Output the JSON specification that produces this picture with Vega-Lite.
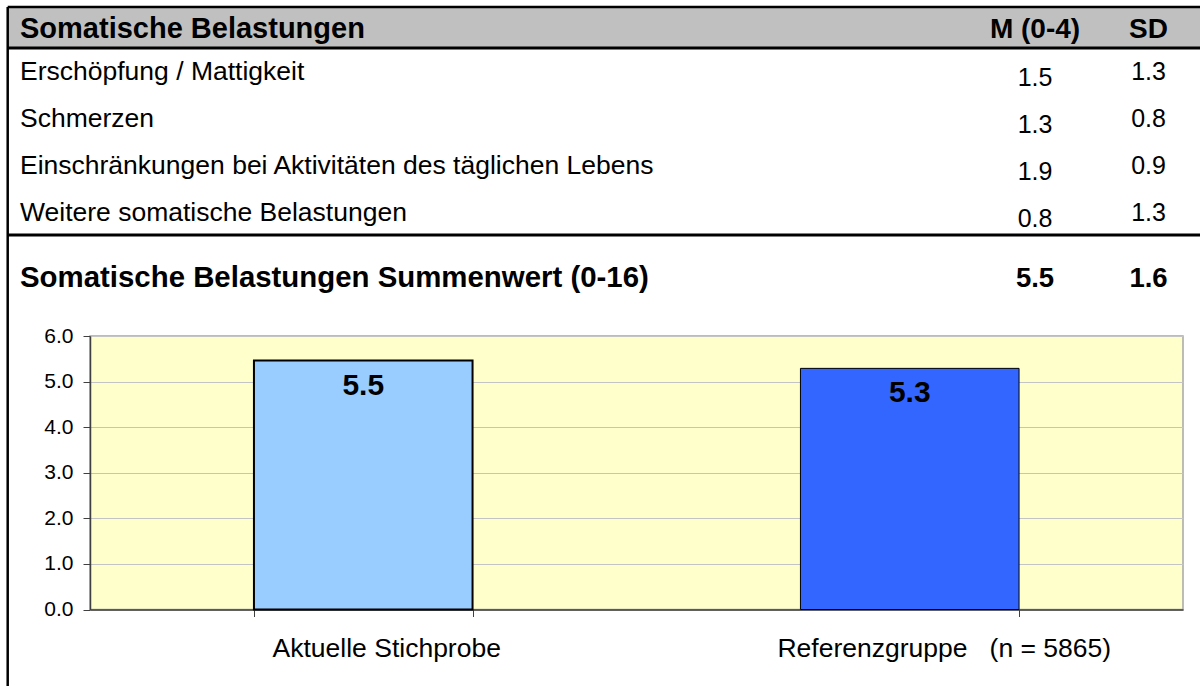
{
  "$schema": "https://vega.github.io/schema/vega-lite/v6.json",
  "width": 1093,
  "height": 273.5,
  "autosize": {"type": "none"},
  "padding": {"left": 90, "top": 336, "right": 17, "bottom": 76.5},
  "background": "white",
  "config": {
    "font": "Liberation Sans",
    "view": {"fill": "#FFFFCC", "stroke": "#A6A6A6", "strokeWidth": 1.5}
  },
  "datasets": {
    "header": [
      {"col": 0, "text": "Somatische Belastungen"},
      {"col": 1, "text": "M (0-4)"},
      {"col": 2, "text": "SD"}
    ],
    "items": [
      {"row": 1, "item": "Erschöpfung / Mattigkeit", "M": 1.5, "SD": 1.3},
      {"row": 2, "item": "Schmerzen", "M": 1.3, "SD": 0.8},
      {"row": 3, "item": "Einschränkungen bei Aktivitäten des täglichen Lebens", "M": 1.9, "SD": 0.9},
      {"row": 4, "item": "Weitere somatische Belastungen", "M": 0.8, "SD": 1.3}
    ],
    "summary": [
      {"row": 5, "item": "Somatische Belastungen Summenwert (0-16)", "M": 5.5, "SD": 1.6}
    ],
    "bars": [
      {"group": "Aktuelle Stichprobe", "value": 5.46},
      {"group": "Referenzgruppe\u00a0\u00a0\u00a0(n = 5865)", "value": 5.29}
    ]
  },
  "layer": [
    {
      "layer": [
        {
          "data": {"values": [{}]},
          "mark": {"type": "rect", "color": "#C0C0C0"},
          "encoding": {
            "x": {"datum": -0.5, "type": "quantitative", "axis": null, "scale": {"domain": [-0.5, 0, 1, 2, 2.5], "range": [-82.3, -70, 945, 1058.5, 1110], "nice": false, "zero": false}},
            "x2": {"datum": 2.5},
            "y": {"datum": -0.5, "type": "quantitative", "axis": null, "scale": {"domain": [-0.5, 0, 0.5, 1, 4, 4.5, 5, 6], "range": [-329, -298.5, -288, -255.7, -115.5, -101, -49.3, 350], "nice": false, "zero": false}},
            "y2": {"datum": 0.5}
          }
        },
        {
          "data": {"name": "header"},
          "transform": [{"filter": "datum.col === 0"}],
          "mark": {"type": "text", "align": "left", "baseline": "alphabetic", "fontSize": 29, "fontWeight": "bold", "color": "black"},
          "encoding": {
            "x": {"field": "col", "type": "quantitative", "axis": null, "scale": {"domain": [-0.5, 0, 1, 2, 2.5], "range": [-82.3, -70, 945, 1058.5, 1110], "nice": false, "zero": false}},
            "y": {"datum": 0, "type": "quantitative", "axis": null, "scale": {"domain": [-0.5, 0, 0.5, 1, 4, 4.5, 5, 6], "range": [-329, -298.5, -288, -255.7, -115.5, -101, -49.3, 350], "nice": false, "zero": false}},
            "text": {"field": "text"}
          }
        },
        {
          "data": {"name": "header"},
          "transform": [{"filter": "datum.col > 0"}],
          "mark": {"type": "text", "align": "center", "baseline": "alphabetic", "fontSize": 28, "fontWeight": "bold", "color": "black"},
          "encoding": {
            "x": {"field": "col", "type": "quantitative", "axis": null, "scale": {"domain": [-0.5, 0, 1, 2, 2.5], "range": [-82.3, -70, 945, 1058.5, 1110], "nice": false, "zero": false}},
            "y": {"datum": 0, "type": "quantitative", "axis": null, "scale": {"domain": [-0.5, 0, 0.5, 1, 4, 4.5, 5, 6], "range": [-329, -298.5, -288, -255.7, -115.5, -101, -49.3, 350], "nice": false, "zero": false}},
            "text": {"field": "text"}
          }
        },
        {
          "data": {"name": "items"},
          "mark": {"type": "text", "align": "left", "baseline": "alphabetic", "fontSize": 26.5, "color": "black"},
          "encoding": {
            "x": {"datum": 0, "type": "quantitative", "axis": null, "scale": {"domain": [-0.5, 0, 1, 2, 2.5], "range": [-82.3, -70, 945, 1058.5, 1110], "nice": false, "zero": false}},
            "y": {"field": "row", "type": "quantitative", "axis": null, "scale": {"domain": [-0.5, 0, 0.5, 1, 4, 4.5, 5, 6], "range": [-329, -298.5, -288, -255.7, -115.5, -101, -49.3, 350], "nice": false, "zero": false}},
            "text": {"field": "item"}
          }
        },
        {
          "data": {"name": "items"},
          "mark": {"type": "text", "align": "center", "baseline": "alphabetic", "fontSize": 25, "dy": 6, "color": "black"},
          "encoding": {
            "x": {"datum": 1, "type": "quantitative", "axis": null, "scale": {"domain": [-0.5, 0, 1, 2, 2.5], "range": [-82.3, -70, 945, 1058.5, 1110], "nice": false, "zero": false}},
            "y": {"field": "row", "type": "quantitative", "axis": null, "scale": {"domain": [-0.5, 0, 0.5, 1, 4, 4.5, 5, 6], "range": [-329, -298.5, -288, -255.7, -115.5, -101, -49.3, 350], "nice": false, "zero": false}},
            "text": {"field": "M", "format": ".1f"}
          }
        },
        {
          "data": {"name": "items"},
          "mark": {"type": "text", "align": "center", "baseline": "alphabetic", "fontSize": 25, "color": "black"},
          "encoding": {
            "x": {"datum": 2, "type": "quantitative", "axis": null, "scale": {"domain": [-0.5, 0, 1, 2, 2.5], "range": [-82.3, -70, 945, 1058.5, 1110], "nice": false, "zero": false}},
            "y": {"field": "row", "type": "quantitative", "axis": null, "scale": {"domain": [-0.5, 0, 0.5, 1, 4, 4.5, 5, 6], "range": [-329, -298.5, -288, -255.7, -115.5, -101, -49.3, 350], "nice": false, "zero": false}},
            "text": {"field": "SD", "format": ".1f"}
          }
        },
        {
          "data": {"name": "summary"},
          "mark": {"type": "text", "align": "left", "baseline": "alphabetic", "fontSize": 29.4, "fontWeight": "bold", "color": "black"},
          "encoding": {
            "x": {"datum": 0, "type": "quantitative", "axis": null, "scale": {"domain": [-0.5, 0, 1, 2, 2.5], "range": [-82.3, -70, 945, 1058.5, 1110], "nice": false, "zero": false}},
            "y": {"field": "row", "type": "quantitative", "axis": null, "scale": {"domain": [-0.5, 0, 0.5, 1, 4, 4.5, 5, 6], "range": [-329, -298.5, -288, -255.7, -115.5, -101, -49.3, 350], "nice": false, "zero": false}},
            "text": {"field": "item"}
          }
        },
        {
          "data": {"name": "summary"},
          "mark": {"type": "text", "align": "center", "baseline": "alphabetic", "fontSize": 27.5, "fontWeight": "bold", "color": "black"},
          "encoding": {
            "x": {"datum": 1, "type": "quantitative", "axis": null, "scale": {"domain": [-0.5, 0, 1, 2, 2.5], "range": [-82.3, -70, 945, 1058.5, 1110], "nice": false, "zero": false}},
            "y": {"field": "row", "type": "quantitative", "axis": null, "scale": {"domain": [-0.5, 0, 0.5, 1, 4, 4.5, 5, 6], "range": [-329, -298.5, -288, -255.7, -115.5, -101, -49.3, 350], "nice": false, "zero": false}},
            "text": {"field": "M", "format": ".1f"}
          }
        },
        {
          "data": {"name": "summary"},
          "mark": {"type": "text", "align": "center", "baseline": "alphabetic", "fontSize": 27.5, "fontWeight": "bold", "color": "black"},
          "encoding": {
            "x": {"datum": 2, "type": "quantitative", "axis": null, "scale": {"domain": [-0.5, 0, 1, 2, 2.5], "range": [-82.3, -70, 945, 1058.5, 1110], "nice": false, "zero": false}},
            "y": {"field": "row", "type": "quantitative", "axis": null, "scale": {"domain": [-0.5, 0, 0.5, 1, 4, 4.5, 5, 6], "range": [-329, -298.5, -288, -255.7, -115.5, -101, -49.3, 350], "nice": false, "zero": false}},
            "text": {"field": "SD", "format": ".1f"}
          }
        },
        {
          "data": {"values": [{}]},
          "mark": {"type": "rule", "color": "black", "strokeWidth": 2.5},
          "encoding": {
            "x": {"datum": -0.5, "type": "quantitative", "axis": null, "scale": {"domain": [-0.5, 0, 1, 2, 2.5], "range": [-82.3, -70, 945, 1058.5, 1110], "nice": false, "zero": false}},
            "x2": {"datum": 2.5},
            "y": {"datum": -0.5, "type": "quantitative", "axis": null, "scale": {"domain": [-0.5, 0, 0.5, 1, 4, 4.5, 5, 6], "range": [-329, -298.5, -288, -255.7, -115.5, -101, -49.3, 350], "nice": false, "zero": false}}
          }
        },
        {
          "data": {"values": [{}]},
          "mark": {"type": "rule", "color": "black", "strokeWidth": 3},
          "encoding": {
            "x": {"datum": -0.5, "type": "quantitative", "axis": null, "scale": {"domain": [-0.5, 0, 1, 2, 2.5], "range": [-82.3, -70, 945, 1058.5, 1110], "nice": false, "zero": false}},
            "x2": {"datum": 2.5},
            "y": {"datum": 0.5, "type": "quantitative", "axis": null, "scale": {"domain": [-0.5, 0, 0.5, 1, 4, 4.5, 5, 6], "range": [-329, -298.5, -288, -255.7, -115.5, -101, -49.3, 350], "nice": false, "zero": false}}
          }
        },
        {
          "data": {"values": [{}]},
          "mark": {"type": "rule", "color": "black", "strokeWidth": 3},
          "encoding": {
            "x": {"datum": -0.5, "type": "quantitative", "axis": null, "scale": {"domain": [-0.5, 0, 1, 2, 2.5], "range": [-82.3, -70, 945, 1058.5, 1110], "nice": false, "zero": false}},
            "x2": {"datum": 2.5},
            "y": {"datum": 4.5, "type": "quantitative", "axis": null, "scale": {"domain": [-0.5, 0, 0.5, 1, 4, 4.5, 5, 6], "range": [-329, -298.5, -288, -255.7, -115.5, -101, -49.3, 350], "nice": false, "zero": false}}
          }
        },
        {
          "data": {"values": [{}]},
          "mark": {"type": "rule", "color": "black", "strokeWidth": 2.5},
          "encoding": {
            "x": {"datum": -0.5, "type": "quantitative", "axis": null, "scale": {"domain": [-0.5, 0, 1, 2, 2.5], "range": [-82.3, -70, 945, 1058.5, 1110], "nice": false, "zero": false}},
            "y": {"datum": -0.5, "type": "quantitative", "axis": null, "scale": {"domain": [-0.5, 0, 0.5, 1, 4, 4.5, 5, 6], "range": [-329, -298.5, -288, -255.7, -115.5, -101, -49.3, 350], "nice": false, "zero": false}},
            "y2": {"datum": 6}
          }
        }
      ]
    },
    {
      "data": {"name": "bars"},
      "layer": [
        {
          "mark": {"type": "bar", "stroke": "black"},
          "encoding": {
            "x": {
              "field": "group", "type": "nominal", "sort": null,
              "scale": {"paddingInner": 0.6, "paddingOuter": 0.3},
              "axis": {
                "orient": "bottom", "title": null, "tickBand": "extent", "labelAngle": 0,
                "labelFontSize": 26.5, "labelColor": "black", "labelPadding": 19, "labelLimit": 600,
                "labelOffset": {"condition": {"test": "datum.value === 'Aktuelle Stichprobe'", "value": 23}, "value": 34},
                "tickSize": 7, "tickColor": "#404040", "domainColor": "#404040", "domainWidth": 1.5, "grid": false
              }
            },
            "y": {
              "field": "value", "type": "quantitative",
              "scale": {"domain": [0, 6], "nice": false},
              "axis": {
                "orient": "left", "title": null, "values": [0, 1, 2, 3, 4, 5, 6], "format": ".1f",
                "labelFontSize": 21, "labelColor": "black", "labelPadding": 10,
                "tickSize": 7, "tickColor": "#404040", "domainColor": "#404040", "domainWidth": 1.5,
                "grid": true, "gridColor": "#C4C4C4", "gridWidth": 1
              }
            },
            "color": {
              "field": "group", "type": "nominal", "sort": null,
              "scale": {"range": ["#99CCFF", "#3366FF"]}, "legend": null
            },
            "strokeWidth": {"condition": {"test": "datum.group === 'Aktuelle Stichprobe'", "value": 2}, "value": 1}
          }
        },
        {
          "mark": {"type": "text", "fontSize": 30, "fontWeight": "bold", "baseline": "alphabetic", "dy": 34, "color": "black"},
          "encoding": {
            "x": {"field": "group", "type": "nominal", "sort": null},
            "y": {"field": "value", "type": "quantitative"},
            "text": {"field": "value", "format": ".1f"}
          }
        }
      ]
    }
  ],
  "resolve": {"scale": {"x": "independent", "y": "independent"}}
}
